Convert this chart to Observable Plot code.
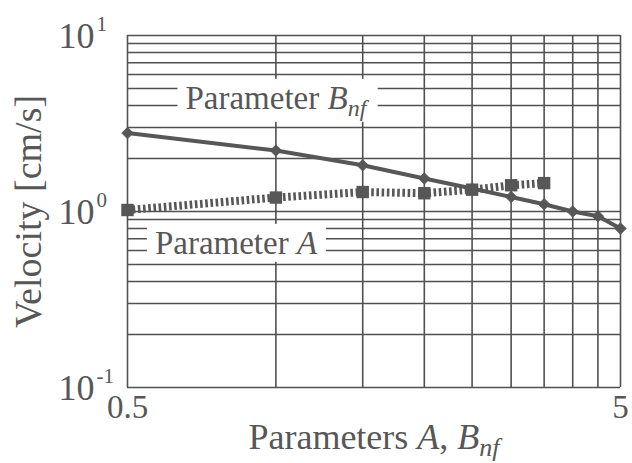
<!DOCTYPE html>
<html>
<head>
<meta charset="utf-8">
<script src="https://cdn.jsdelivr.net/npm/d3@7"></script>
<script src="https://cdn.jsdelivr.net/npm/@observablehq/plot@0.6"></script>
<style>
  html, body { margin: 0; padding: 0; background: #fff; }
  #chart { width: 632px; height: 463px; }
  #chart svg, #chart svg text, #chart svg tspan {
    font-family: "Liberation Serif", "Times New Roman", Times, serif !important;
  }
</style>
</head>
<body>
<div id="chart"></div>
<script>
// Velocity as a function of parameter B_nf (solid line, diamonds)
const paramB = [0.5, 1, 1.5, 2, 2.5, 3, 3.5, 4, 4.5, 5];
const velocityB = [2.79, 2.22, 1.83, 1.54, 1.35, 1.21, 1.10, 1.00, 0.94, 0.80];

// Velocity as a function of parameter A (dotted line, squares)
const paramA = [0.5, 1, 1.5, 2, 2.5, 3, 3.5];
const velocityA = [1.02, 1.20, 1.29, 1.27, 1.33, 1.41, 1.45];

// Grid lines and tick labels
const xGrid = [0.5, 1, 1.5, 2, 2.5, 3, 3.5, 4, 4.5, 5];
const yGrid = [0.1, 0.2, 0.3, 0.4, 0.5, 0.6, 0.7, 0.8, 0.9, 1, 2, 3, 4, 5, 6, 7, 8, 9, 10];
const xTickValues = [0.5, 5];
const xTickLabels = ["0.5", "5"];
const yTickValues = [0.1, 1, 10];
const yTickExponents = ["-1", "0", "1"];

// Text
const seriesLabels = ["Parameter B_nf", "Parameter A"];
const xTitle = "Parameters A, B_nf";
const yTitle = "Velocity [cm/s]";

const ink = "#575757";
const gridInk = "#505050";
const font = "Liberation Serif, Times New Roman, serif";

const dataB = paramB.map((p, i) => ({p, v: velocityB[i]}));
const dataA = paramA.map((p, i) => ({p, v: velocityA[i]}));

const txt = {fill: ink, fontFamily: font};

const chart = Plot.plot({
  width: 632,
  height: 463,
  marginLeft: 127,
  marginRight: 12,
  marginTop: 35,
  marginBottom: 76,
  style: {fontFamily: font, background: "#fff", color: ink},
  x: {type: "log", domain: [0.5, 5], axis: null},
  y: {type: "log", domain: [0.1, 10], axis: null},
  marks: [
    // log grid
    Plot.ruleX(xGrid, {stroke: gridInk, strokeWidth: 1.6}),
    Plot.ruleY(yGrid, {stroke: gridInk, strokeWidth: 1.6}),

    // series labels on the grid
    Plot.text([seriesLabels[0]], {x: 1.0, y: 4.4, text: d => d, fontSize: 33, lineAnchor: "middle", ...txt}),
    Plot.text([seriesLabels[1]], {x: 0.83, y: 0.66, text: d => d, fontSize: 33, lineAnchor: "middle", ...txt}),

    // B_nf series
    Plot.line(dataB, {x: "p", y: "v", stroke: ink, strokeWidth: 4}),
    Plot.dot(dataB, {x: "p", y: "v", symbol: "diamond2", r: 5.2, fill: ink, stroke: ink, strokeWidth: 0.8}),

    // A series
    Plot.line(dataA, {x: "p", y: "v", stroke: ink, strokeWidth: 8, strokeDasharray: "2.6,2.6", strokeLinecap: "butt", strokeLinejoin: "miter"}),
    Plot.dot(dataA, {x: "p", y: "v", symbol: "square", r: 7, fill: ink}),

    // x tick labels
    Plot.text(xTickValues, {x: d => d, frameAnchor: "bottom", text: (d, i) => xTickLabels[i],
      textAnchor: "middle", lineAnchor: "middle", dy: 20, fontSize: 33, ...txt}),

    // y tick labels: mantissa and exponent
    Plot.text(yTickValues, {y: d => d, frameAnchor: "left", text: () => "10",
      textAnchor: "end", lineAnchor: "middle", dx: -33, dy: 1, fontSize: 36, ...txt}),
    Plot.text(yTickValues, {y: d => d, frameAnchor: "left", text: (d, i) => yTickExponents[i],
      textAnchor: "start", lineAnchor: "middle", dx: -31, dy: -11, fontSize: 21, ...txt}),

    // axis titles
    Plot.text([xTitle], {frameAnchor: "bottom", text: d => d, textAnchor: "middle", lineAnchor: "middle",
      dy: 50, fontSize: 36, ...txt}),
    Plot.text([yTitle], {frameAnchor: "left", text: d => d, rotate: -90, textAnchor: "middle",
      lineAnchor: "middle", dx: -99, fontSize: 38, ...txt})
  ]
});

document.getElementById("chart").appendChild(chart);

// Italic symbols with subscripts, e.g. "B_nf"
function richText(el, str) {
  const size = parseFloat(getComputedStyle(el).fontSize) || 16;
  while (el.firstChild) el.removeChild(el.firstChild);
  const ns = "http://www.w3.org/2000/svg";
  const add = (t, attrs = {}) => {
    const s = document.createElementNS(ns, "tspan");
    for (const k in attrs) s.setAttribute(k, attrs[k]);
    s.textContent = t;
    el.appendChild(s);
    return s;
  };
  for (const tok of str.split(/(\s+)/)) {
    const m = tok.match(/^([A-Z])(?:_([a-z]+))?([,.]?)$/);
    if (!m) { if (tok) add(tok); continue; }
    add(m[1], {"font-style": "italic"});
    let shift = 0;
    if (m[2]) {
      shift = Math.round(size * 0.2);
      add(m[2], {"font-style": "italic", "font-size": Math.round(size * 0.72), dy: shift});
    }
    if (m[3]) add(m[3], shift ? {dy: -shift} : {});
  }
}

const svg = d3.select(chart.tagName.toLowerCase() === "svg" ? chart : chart.querySelector("svg"));
svg.selectAll("text").each(function() {
  const s = this.textContent;
  if (s === seriesLabels[0] || s === seriesLabels[1] || s === xTitle) richText(this, s);
  if (s === seriesLabels[0] || s === seriesLabels[1]) {
    // white box behind the series label, hiding the grid beneath it
    const b = this.getBBox();
    const padX = 8, padY = 1;
    const r = document.createElementNS("http://www.w3.org/2000/svg", "rect");
    r.setAttribute("x", b.x - padX);
    r.setAttribute("y", b.y - padY);
    r.setAttribute("width", b.width + 2 * padX);
    r.setAttribute("height", b.height + 2 * padY);
    r.setAttribute("fill", "#fff");
    const tr = this.getAttribute("transform");
    if (tr) r.setAttribute("transform", tr);
    this.parentNode.insertBefore(r, this);
  }
});
</script>
</body>
</html>
